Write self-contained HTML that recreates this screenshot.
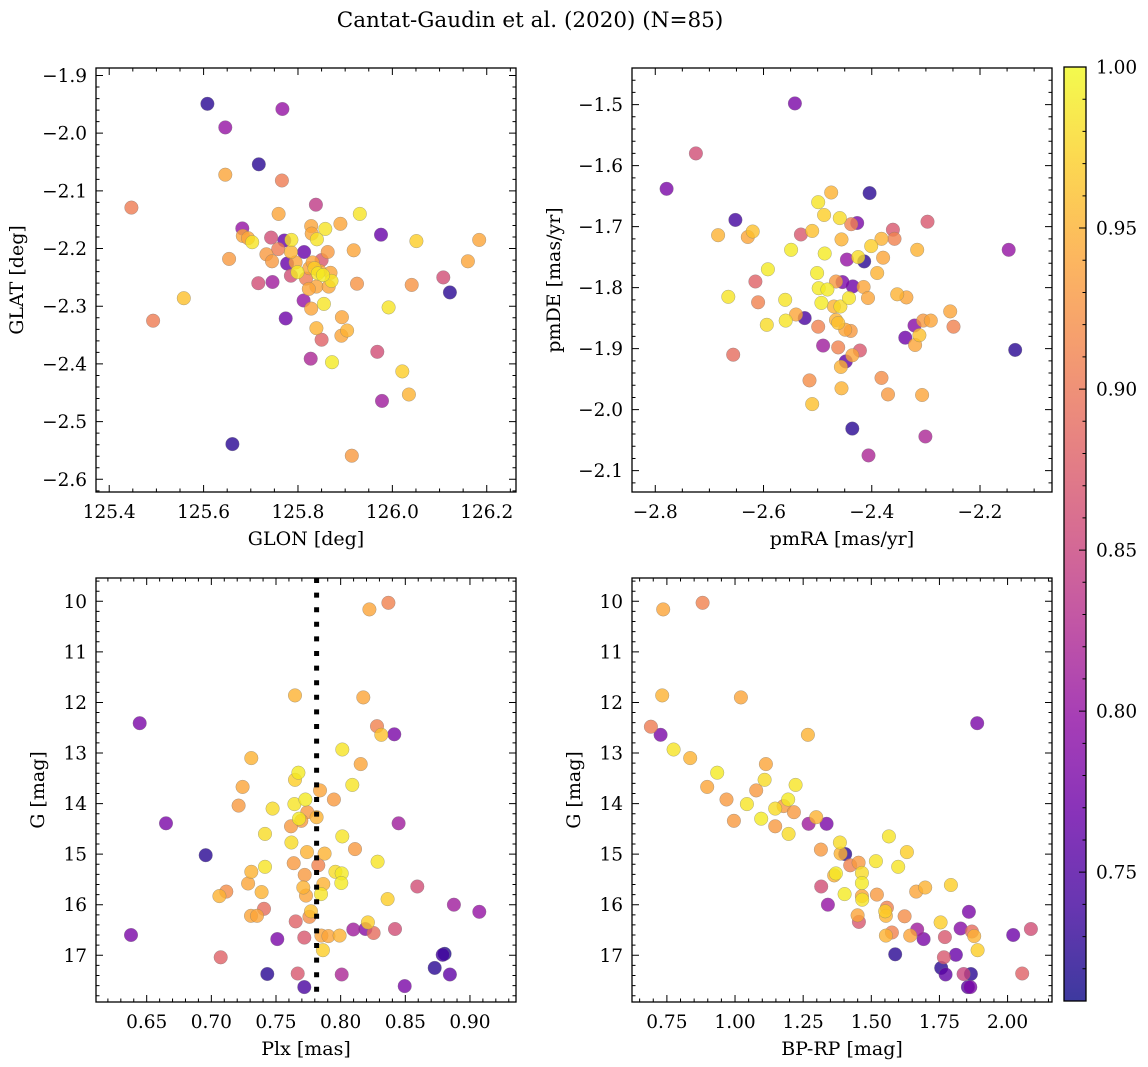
<!DOCTYPE html>
<html><head><meta charset="utf-8">
<style>
html,body{margin:0;padding:0;background:#fff;}
svg{display:block;}
text{font-family:"DejaVu Serif","Liberation Serif",serif;fill:#000;}
</style></head>
<body>
<svg id="fig" width="1148" height="1067" viewBox="0 0 1148 1067" xmlns="http://www.w3.org/2000/svg">
<text x="530" y="27" font-size="21.5" text-anchor="middle">Cantat-Gaudin et al. (2020) (N=85)</text>
</svg>
<script>
// ---------- data ----------
const p1Glon=[125.608,125.767,125.646,125.717,125.646,125.766,125.447,125.838,125.759,125.931,125.682,125.828,125.890,125.858,125.976,125.683,125.694,125.703,125.743,125.771,125.786,125.840,125.829,126.051,126.184,125.758,125.813,125.863,125.918,125.733,125.785,125.654,125.745,125.777,125.795,125.850,126.160,125.799,125.824,125.785,125.817,125.842,125.853,125.869,125.871,125.716,125.746,125.839,125.823,125.865,125.925,126.041,126.108,126.122,125.558,125.812,125.828,125.855,125.992,125.493,125.774,125.893,125.839,125.904,125.892,125.850,125.968,125.827,125.872,126.021,126.035,125.978,125.661,125.914,125.831,125.835,125.846];
const p1Glat=[-1.949,-1.958,-1.990,-2.054,-2.072,-2.082,-2.129,-2.124,-2.140,-2.140,-2.165,-2.161,-2.157,-2.166,-2.176,-2.178,-2.182,-2.189,-2.181,-2.186,-2.185,-2.184,-2.174,-2.187,-2.185,-2.201,-2.206,-2.206,-2.203,-2.210,-2.206,-2.218,-2.222,-2.226,-2.224,-2.220,-2.222,-2.241,-2.234,-2.247,-2.252,-2.243,-2.246,-2.242,-2.256,-2.260,-2.258,-2.266,-2.270,-2.266,-2.261,-2.263,-2.250,-2.276,-2.286,-2.290,-2.304,-2.296,-2.302,-2.325,-2.321,-2.319,-2.338,-2.342,-2.351,-2.358,-2.379,-2.391,-2.397,-2.413,-2.453,-2.464,-2.539,-2.559,-2.224,-2.234,-2.239];
const p1Prob=[0.725,0.80,0.80,0.725,0.94,0.905,0.905,0.84,0.94,0.985,0.80,0.94,0.94,0.985,0.765,0.94,0.94,0.985,0.86,0.765,0.985,0.985,0.94,0.97,0.94,0.905,0.765,0.93,0.94,0.93,0.95,0.93,0.93,0.765,0.94,0.87,0.94,0.99,0.94,0.86,0.905,0.985,0.99,0.94,0.985,0.86,0.81,0.94,0.94,0.94,0.925,0.925,0.86,0.725,0.96,0.80,0.94,0.985,0.985,0.905,0.77,0.94,0.95,0.95,0.94,0.88,0.86,0.82,0.99,0.97,0.95,0.81,0.725,0.93,0.94,0.97,0.94];

const p2PmRA=[-2.542,-2.725,-2.779,-2.475,-2.404,-2.499,-2.652,-2.488,-2.459,-2.427,-2.438,-2.297,-2.684,-2.629,-2.620,-2.531,-2.510,-2.361,-2.456,-2.382,-2.358,-2.401,-2.549,-2.487,-2.316,-2.147,-2.446,-2.414,-2.425,-2.379,-2.592,-2.501,-2.390,-2.615,-2.466,-2.454,-2.435,-2.498,-2.482,-2.415,-2.665,-2.560,-2.442,-2.407,-2.353,-2.336,-2.610,-2.493,-2.470,-2.458,-2.255,-2.540,-2.524,-2.594,-2.559,-2.466,-2.462,-2.499,-2.449,-2.439,-2.321,-2.305,-2.291,-2.249,-2.338,-2.312,-2.320,-2.135,-2.656,-2.490,-2.462,-2.422,-2.448,-2.436,-2.457,-2.515,-2.382,-2.456,-2.370,-2.307,-2.510,-2.436,-2.301,-2.406];
const p2PmDE=[-1.498,-1.580,-1.638,-1.644,-1.645,-1.660,-1.689,-1.681,-1.686,-1.694,-1.696,-1.692,-1.714,-1.717,-1.708,-1.713,-1.707,-1.705,-1.721,-1.720,-1.720,-1.732,-1.738,-1.744,-1.738,-1.738,-1.754,-1.757,-1.750,-1.751,-1.770,-1.776,-1.776,-1.790,-1.790,-1.791,-1.798,-1.801,-1.803,-1.799,-1.815,-1.820,-1.817,-1.817,-1.811,-1.816,-1.824,-1.825,-1.831,-1.831,-1.839,-1.844,-1.850,-1.861,-1.854,-1.853,-1.858,-1.864,-1.869,-1.871,-1.862,-1.854,-1.854,-1.864,-1.882,-1.878,-1.894,-1.902,-1.910,-1.895,-1.898,-1.903,-1.921,-1.911,-1.930,-1.952,-1.948,-1.965,-1.975,-1.976,-1.991,-2.031,-2.044,-2.075];
const p2Prob=[0.78,0.86,0.78,0.95,0.725,0.985,0.74,0.97,0.98,0.78,0.91,0.87,0.95,0.94,0.96,0.87,0.96,0.87,0.95,0.95,0.91,0.97,0.99,0.99,0.95,0.80,0.80,0.725,0.98,0.94,0.99,0.99,0.95,0.88,0.93,0.78,0.77,0.99,0.99,0.94,0.985,0.985,0.985,0.94,0.95,0.94,0.91,0.99,0.95,0.98,0.94,0.94,0.745,0.98,0.985,0.95,0.96,0.91,0.94,0.93,0.79,0.93,0.94,0.91,0.77,0.96,0.94,0.725,0.89,0.81,0.91,0.87,0.76,0.94,0.95,0.92,0.92,0.95,0.93,0.94,0.96,0.725,0.82,0.82];

const p3Plx=[0.8369,0.8222,0.7647,0.8175,0.6446,0.8281,0.8314,0.8415,0.8013,0.7309,0.8155,0.7673,0.7647,0.8090,0.7242,0.7840,0.7948,0.7727,0.7642,0.7211,0.7474,0.7742,0.7814,0.7678,0.7696,0.6649,0.8448,0.7616,0.7415,0.8013,0.7619,0.8111,0.6956,0.7740,0.7876,0.8286,0.7637,0.7827,0.7415,0.7959,0.8008,0.7309,0.7722,0.8005,0.7284,0.7866,0.7711,0.8593,0.7389,0.7116,0.7062,0.7732,0.7848,0.8363,0.8876,0.9072,0.7407,0.7307,0.7353,0.7771,0.7758,0.7652,0.8211,0.8098,0.8191,0.8255,0.8420,0.7851,0.7905,0.7992,0.6379,0.7510,0.7719,0.7863,0.7072,0.8789,0.8804,0.8727,0.8845,0.7433,0.7668,0.8008,0.7719,0.8495];
const p3G=[10.03,10.16,11.86,11.90,12.41,12.47,12.64,12.63,12.93,13.10,13.22,13.39,13.53,13.63,13.67,13.74,13.92,13.92,14.01,14.04,14.10,14.17,14.27,14.30,14.34,14.39,14.39,14.45,14.60,14.65,14.77,14.90,15.02,14.96,14.99,15.15,15.18,15.22,15.25,15.35,15.38,15.35,15.41,15.57,15.58,15.59,15.66,15.64,15.75,15.74,15.83,15.82,15.79,15.89,16.00,16.14,16.08,16.22,16.22,16.13,16.24,16.33,16.35,16.49,16.48,16.56,16.48,16.61,16.62,16.61,16.60,16.68,16.65,16.90,17.04,16.99,16.97,17.25,17.38,17.37,17.36,17.38,17.63,17.61];
const p3Prob=[0.91,0.94,0.95,0.94,0.78,0.91,0.96,0.78,0.985,0.95,0.94,0.99,0.97,0.985,0.94,0.94,0.93,0.99,0.985,0.93,0.98,0.93,0.95,0.99,0.93,0.78,0.81,0.93,0.98,0.985,0.98,0.93,0.725,0.95,0.95,0.985,0.93,0.91,0.985,0.98,0.99,0.95,0.93,0.99,0.94,0.95,0.95,0.86,0.95,0.92,0.95,0.94,0.985,0.97,0.81,0.80,0.89,0.94,0.94,0.96,0.92,0.88,0.97,0.81,0.79,0.89,0.86,0.94,0.94,0.95,0.78,0.78,0.87,0.97,0.88,0.74,0.72,0.725,0.76,0.725,0.87,0.82,0.745,0.78];

const p4Bprp=[0.7365,0.8809,0.7329,1.0215,0.6913,0.7268,1.8887,1.2674,0.7745,0.8356,1.1133,0.9347,1.1084,0.8980,1.2221,1.0778,0.9689,1.1952,1.0435,1.1781,1.1475,1.2160,1.2979,1.0961,0.9958,1.2698,1.3359,1.1475,1.1964,1.5646,1.3848,1.3151,1.4044,1.3872,1.6306,1.4533,1.4227,1.5169,1.5988,1.4655,1.3701,1.3640,1.4655,1.3163,1.6649,1.6979,1.7921,1.4019,1.4655,1.4667,1.5205,1.3408,1.5572,1.5511,1.4496,1.5536,1.6221,1.4545,1.8581,1.7541,1.6685,1.8276,1.8692,1.8777,1.5756,1.5536,1.6429,1.6918,1.7701,2.0208,2.0856,1.8899,1.5878,1.8104,1.7664,1.7566,1.7725,1.8386,1.8655,1.8545,1.8631,2.0538];
const p4G=[10.16,10.03,11.86,11.90,12.48,12.64,12.41,12.64,12.93,13.10,13.22,13.39,13.53,13.67,13.63,13.74,13.92,13.92,14.01,14.05,14.10,14.17,14.27,14.30,14.34,14.40,14.40,14.45,14.60,14.65,14.77,14.91,15.00,14.99,14.96,15.17,15.22,15.14,15.25,15.37,15.38,15.42,15.57,15.64,15.74,15.66,15.61,15.79,15.83,15.90,15.80,16.00,16.06,16.13,16.21,16.22,16.23,16.34,16.14,16.35,16.49,16.47,16.53,16.62,16.55,16.61,16.61,16.68,16.64,16.60,16.48,16.90,16.98,16.99,17.04,17.25,17.38,17.37,17.37,17.63,17.63,17.36];
const p4Prob=[0.94,0.91,0.95,0.94,0.905,0.78,0.78,0.95,0.985,0.95,0.94,0.99,0.98,0.94,0.985,0.93,0.93,0.99,0.985,0.93,0.98,0.93,0.95,0.99,0.93,0.81,0.78,0.93,0.98,0.985,0.98,0.93,0.725,0.95,0.97,0.93,0.91,0.985,0.985,0.98,0.99,0.95,0.99,0.86,0.94,0.95,0.97,0.99,0.94,0.985,0.93,0.80,0.91,0.97,0.94,0.95,0.92,0.87,0.78,0.97,0.81,0.79,0.89,0.95,0.91,0.95,0.94,0.78,0.87,0.77,0.86,0.97,0.725,0.765,0.87,0.725,0.76,0.85,0.725,0.755,0.78,0.88];

const cbTicks=[0.75,0.80,0.85,0.90,0.95,1.00];
const plxLine=[0.7814];

// ---------- helpers ----------
const NS="http://www.w3.org/2000/svg";
const svg=document.getElementById('fig');
const VMIN=0.71,VMAX=1.0;
const TICKFS=18.5, TITLEFS=19;
const plasma=[[0,13,8,135],[0.1,65,4,157],[0.2,106,0,168],[0.3,143,13,164],[0.4,177,42,144],[0.5,204,71,120],[0.6,225,100,98],[0.7,242,132,75],[0.8,252,166,54],[0.9,252,206,37],[1,240,249,33]];
function cmap(v){let t=Math.max(0,Math.min(1,(v-VMIN)/(VMAX-VMIN)));
 for(let i=1;i<plasma.length;i++){if(t<=plasma[i][0]){const a=plasma[i-1],b=plasma[i],f=(t-a[0])/(b[0]-a[0]);
 return `rgb(${Math.round(a[1]+f*(b[1]-a[1]))},${Math.round(a[2]+f*(b[2]-a[2]))},${Math.round(a[3]+f*(b[3]-a[3]))})`;}}
 return 'rgb(240,249,33)';}
function mk(tag,attrs,parent){const e=document.createElementNS(NS,tag);for(const k in attrs)e.setAttribute(k,attrs[k]);(parent||svg).appendChild(e);return e;}
const fmtMinus=s=>s.replace('-','\u2212');

function panel(cfg){
 const {name,L,T,W,H,x0,x1,yTop,yBot}=cfg;
 const g=mk('g',{});
 
 
 const sx=v=>L+(v-x0)/(x1-x0)*W;
 const sy=v=>T+(v-yTop)/(yBot-yTop)*H;
 const idx=cfg.xs.map((_,i)=>i).sort((a,b)=>cfg.ps[a]-cfg.ps[b]);
 for(const i of idx){
  const c=mk('circle',{cx:sx(cfg.xs[i]).toFixed(1),cy:sy(cfg.ys[i]).toFixed(1),r:6.8,fill:cmap(cfg.ps[i]),'fill-opacity':0.8,stroke:'#777','stroke-width':0.5,'stroke-opacity':0.6},g);
  
  
 }
 if(cfg.vline){for(const v of cfg.vline){
  const l=mk('line',{x1:sx(v),x2:sx(v),y1:T,y2:T+H,stroke:'#000','stroke-width':5,'stroke-dasharray':'5 9.6'},g);
  
  
 }}
 const fr=mk('rect',{x:L,y:T,width:W,height:H,fill:'none',stroke:'#000','stroke-width':1.3},g);
 
 
 const eps=1e-9;
 const xlo=Math.min(x0,x1),xhi=Math.max(x0,x1),ylo=Math.min(yTop,yBot),yhi=Math.max(yTop,yBot);
 let p='';
 for(let k=Math.ceil(xlo/cfg.xMinor-eps);k*cfg.xMinor<=xhi+eps;k++){const v=k*cfg.xMinor;const X=sx(v);
  const major=Math.abs(v/cfg.xMajor-Math.round(v/cfg.xMajor))<1e-6;const len=major?7:3.5;
  p+=`M${X},${T+H}v${-len}M${X},${T}v${len}`;}
 for(let k=Math.ceil(ylo/cfg.yMinor-eps);k*cfg.yMinor<=yhi+eps;k++){const v=k*cfg.yMinor;const Y=sy(v);
  const major=Math.abs(v/cfg.yMajor-Math.round(v/cfg.yMajor))<1e-6;const len=major?7:3.5;
  p+=`M${L},${Y}h${len}M${L+W},${Y}h${-len}`;}
 const tk=mk('path',{d:p,stroke:'#000','stroke-width':1,fill:'none'},g);
 
 
 for(const v of cfg.xLabels){
  const t=mk('text',{x:sx(v),y:T+H+26,'font-size':TICKFS,'text-anchor':'middle'},g);
  t.textContent=fmtMinus(v.toFixed(cfg.xDec));
  
  
 }
 for(const v of cfg.yLabels){
  const t=mk('text',{x:L-9,y:sy(v)+6.5,'font-size':TICKFS,'text-anchor':'end'},g);
  t.textContent=fmtMinus(v.toFixed(cfg.yDec));
  
  
 }
 const xl=mk('text',{x:L+W/2,y:T+H+53,'font-size':TITLEFS,'text-anchor':'middle'},g);
 xl.textContent=cfg.xTitle;
 
 
 const yx=cfg.yTitleX, yy=T+H/2;
 const yl=mk('text',{x:yx,y:yy,'font-size':TITLEFS,'text-anchor':'middle',transform:`rotate(-90 ${yx} ${yy})`},g);
 yl.textContent=cfg.yTitle;
 
 
}
function range(a,b,s){const r=[];for(let v=a;v<=b+s*1e-6;v+=s)r.push(Math.round(v*1000)/1000);return r;}

panel({name:'glon-glat',L:96,T:68,W:420,H:424,x0:125.372,x1:126.262,yTop:-1.887,yBot:-2.622,
 xs:p1Glon,ys:p1Glat,ps:p1Prob,xMajor:0.2,xMinor:0.05,yMajor:0.1,yMinor:0.02,
 xLabels:range(125.4,126.2,0.2),yLabels:range(-2.6,-1.9,0.1),xDec:1,yDec:1,xTitle:'GLON [deg]',yTitle:'GLAT [deg]',yTitleX:23});
panel({name:'proper-motion',L:632,T:68,W:420,H:424,x0:-2.843,x1:-2.067,yTop:-1.440,yBot:-2.135,
 xs:p2PmRA,ys:p2PmDE,ps:p2Prob,xMajor:0.2,xMinor:0.05,yMajor:0.1,yMinor:0.02,
 xLabels:range(-2.8,-2.2,0.2),yLabels:range(-2.1,-1.5,0.1),xDec:1,yDec:1,xTitle:'pmRA [mas/yr]',yTitle:'pmDE [mas/yr]',yTitleX:560});
panel({name:'plx-g',L:96,T:578,W:420,H:424,x0:0.6108,x1:0.9356,yTop:9.539,yBot:17.924,
 xs:p3Plx,ys:p3G,ps:p3Prob,xMajor:0.05,xMinor:0.01,yMajor:1,yMinor:0.2,vline:plxLine,
 xLabels:range(0.65,0.90,0.05),yLabels:range(10,17,1),xDec:2,yDec:0,xTitle:'Plx [mas]',yTitle:'G [mag]',yTitleX:44});
panel({name:'cmd',L:632,T:578,W:420,H:424,x0:0.622,x1:2.163,yTop:9.539,yBot:17.924,
 xs:p4Bprp,ys:p4G,ps:p4Prob,xMajor:0.25,xMinor:0.05,yMajor:1,yMinor:0.2,
 xLabels:range(0.75,2.0,0.25),yLabels:range(10,17,1),xDec:2,yDec:0,xTitle:'BP-RP [mag]',yTitle:'G [mag]',yTitleX:580});

// ---------- colorbar ----------
(function(){
 const L=1064,T=67,W=22,H=934;
 const cy=v=>T+(VMAX-v)/(VMAX-VMIN)*H;
 const g=mk('g',{});
 
 
 const defs=mk('defs',{},g);
 const lg=mk('linearGradient',{id:'cbg',x1:0,y1:1,x2:0,y2:0},defs);
 for(let i=0;i<=20;i++){const v=VMIN+(VMAX-VMIN)*i/20;mk('stop',{offset:(i/20),'stop-color':cmap(v),'stop-opacity':0.8},lg);}
 const r=mk('rect',{x:L,y:T,width:W,height:H,fill:'url(#cbg)',stroke:'#000','stroke-width':1.3},g);
 
 
 let p='';
 for(let k=72;k<=100;k++){const v=k/100;const Y=cy(v);const major=k%5===0;p+=`M${L+W},${Y}h${major?-7:-3.5}`;}
 mk('path',{d:p,stroke:'#000','stroke-width':1},g);
 for(const v of cbTicks){
  const t=mk('text',{x:L+W+10,y:cy(v)+6.5,'font-size':TICKFS},g);
  t.textContent=v.toFixed(2);
  
  
 }
})();
</script>
</body></html>
